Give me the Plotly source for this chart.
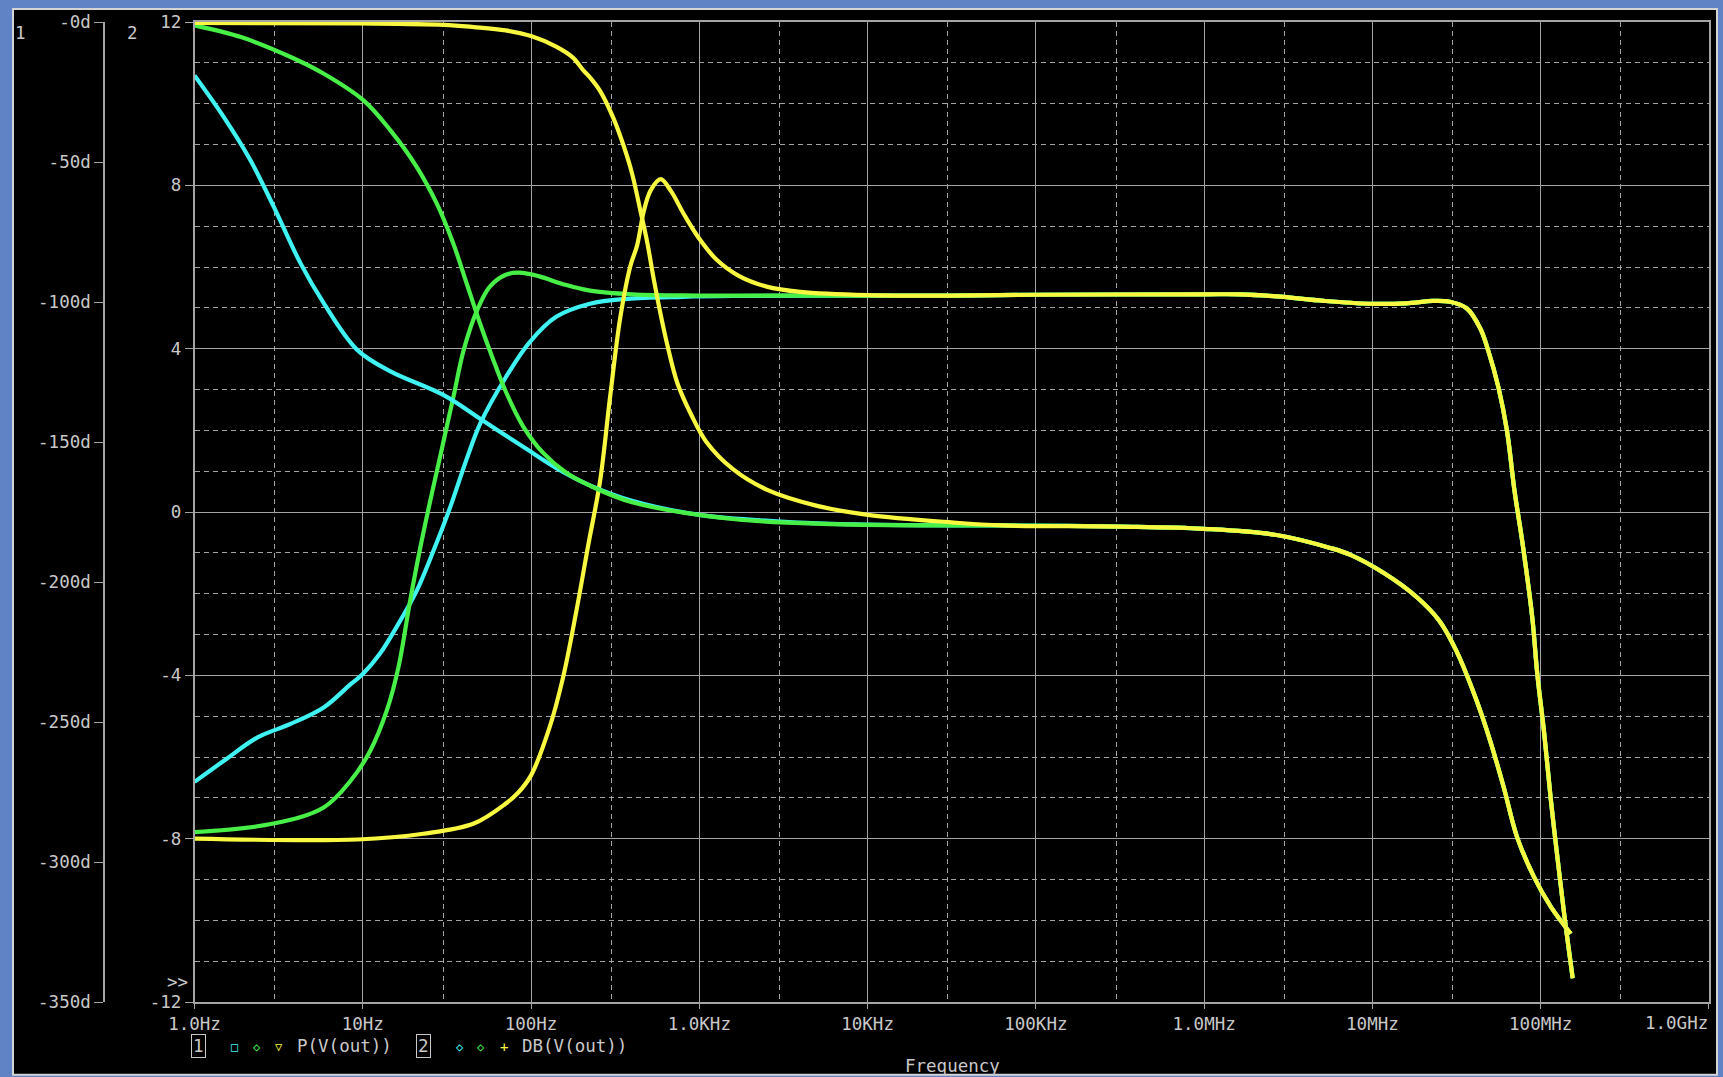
import plotly.graph_objects as go

# ---------------- data ----------------
X_TICK_VALS = [1, 10, 100, 1e3, 1e4, 1e5, 1e6, 1e7, 1e8, 1e9]
X_TICK_TEXT = ["1.0Hz", "10Hz", "100Hz", "1.0KHz", "10KHz", "100KHz",
               "1.0MHz", "10MHz", "100MHz", "1.0GHz"]
X_MINOR_VALS = [3, 30, 300, 3e3, 3e4, 3e5, 3e6, 3e7, 3e8]

DB_TICK_VALS = [12, 8, 4, 0, -4, -8, -12]
DB_TICK_TEXT = ["12", "8", "4", "0", "-4", "-8", "-12"]
PH_TICK_VALS = [0, -50, -100, -150, -200, -250, -300, -350]
PH_TICK_TEXT = ["-0d", "-50d", "-100d", "-150d", "-200d", "-250d", "-300d", "-350d"]

# shared high-frequency part (the three traces coincide there)
HF_PH_FREQ = [6.31e4, 3.16e5, 1.0e6, 2.69e6, 5.75e6, 7.41e6, 1.17e7, 1.86e7,
              2.51e7, 3.16e7, 4.17e7, 5.01e7, 6.03e7, 7.24e7, 9.12e7, 1.15e8, 1.51e8]
HF_PH = [-179.8, -180.2, -181.0, -183.2, -188.0, -190.3, -196.8, -205.7,
         -214.0, -224.7, -242.5, -256.7, -273.3, -291.1, -305.3, -316.0, -325.6]
HF_DB_FREQ = [3.16e4, 1.0e5, 1.0e6, 1.62e6, 2.69e6, 5.13e6, 9.55e6, 1.58e7,
              2.29e7, 2.88e7, 3.63e7, 4.37e7, 4.90e7, 5.62e7, 6.31e7, 7.0e7,
              7.76e7, 8.91e7, 9.55e7, 1.05e8, 1.15e8, 1.29e8, 1.41e8, 1.55e8]
HF_DB = [5.30, 5.32, 5.33, 5.33, 5.28, 5.17, 5.10, 5.11,
         5.17, 5.15, 4.99, 4.50, 3.93, 3.04, 1.98, 0.5,
         -0.7, -2.58, -3.97, -5.43, -7.06, -8.85, -10.16, -11.42]

# cyan
CYAN_PH_FREQ = [1, 1.49, 2.15, 2.96, 4.27, 5.86, 9.27, 14.6, 29.9, 52.5,
                91.2, 143, 224, 398, 1000, 3981, 1e4, 3.16e4]
CYAN_PH = [-19.1, -33.9, -49.4, -66.0, -86.2, -100.4, -117.1, -124.8, -133.1, -142.6,
           -152.0, -159.5, -165.5, -171.0, -176.0, -178.8, -179.5, -179.8]
CYAN_DB_FREQ = [1, 1.51, 2.37, 3.72, 5.89, 8.51, 10.0, 12.6, 15.8, 20.9, 26.3,
                33.1, 41.7, 50.1, 70.8, 97.7, 141, 224, 372, 794, 1585, 1e4]
CYAN_DB = [-6.61, -6.08, -5.52, -5.19, -4.78, -4.21, -3.97, -3.48, -2.83, -1.93, -0.95,
           0.12, 1.33, 2.18, 3.3, 4.15, 4.78, 5.1, 5.22, 5.27, 5.29, 5.30]

# green
GREEN_PH_FREQ = [1, 1.89, 3.73, 5.87, 10.1, 14.6, 20.9, 27.5, 34.5, 41.4, 49.7,
                 59.6, 71.4, 89.7, 118, 162, 222, 398, 1585, 6310, 3.16e4]
GREEN_PH = [-1.2, -5.4, -12.5, -18.5, -28.0, -38.7, -51.7, -64.8, -79.1, -93.3, -107.6,
            -120.6, -132.5, -144.4, -153.9, -161.0, -165.5, -171.5, -177.5, -179.3, -179.8]
GREEN_DB_FREQ = [1, 2.95, 5.89, 8.51, 11.1, 13.9, 16.3, 19.1, 21.9, 25.1, 28.8,
                 31.6, 34.7, 39.8, 47.9, 56.9, 70.8, 85.1, 112, 155, 224, 398, 1000, 1e4]
GREEN_DB = [-7.84, -7.63, -7.23, -6.57, -5.84, -4.86, -3.80, -2.18, -0.9, 0.25, 1.35,
            2.1, 2.85, 3.97, 4.95, 5.52, 5.81, 5.86, 5.77, 5.58, 5.42, 5.33, 5.30, 5.30]

# yellow
YEL_PH_FREQ = [1, 9.33, 30.2, 45.7, 70.8, 100, 141, 178, 204, 224, 257, 309, 355,
               398, 447, 490, 537, 589, 646, 741, 891, 1096, 1585, 2512, 5012, 1e4, 3.16e4]
YEL_PH = [-0.3, -0.5, -1.0, -1.8, -3.0, -5.0, -8.8, -12.8, -17.2, -19.8, -24.6, -34.4, -44.2,
          -54.0, -67.5, -78.6, -92.1, -104.4, -115.4, -129.0, -140.0, -149.8, -159.7, -167.0,
          -172.8, -176.0, -178.7]
YEL_DB_FREQ = [1, 9.33, 22.9, 45.7, 70.8, 84.0, 100, 129, 155, 186, 219, 257, 295, 339,
               389, 427, 468, 513, 589, 676, 813, 1000, 1259, 1738, 2512, 3981, 1e4]
YEL_DB = [-8.0, -8.02, -7.88, -7.63, -7.14, -6.87, -6.45, -5.27, -4.05, -2.42, -0.8, 0.75, 2.82,
          4.76, 6.02, 6.53, 7.37, 7.87, 8.15, 7.87, 7.28, 6.69, 6.19, 5.77, 5.52, 5.39, 5.31]

CYAN = "#3ff3f3"
GREEN = "#47ef47"
YELLOW = "#f8f840"
GRID = "#a4a4a4"
TXT = "#c8c8c8"
FONT = "DejaVu Sans Mono"

# ---------------- geometry ----------------
W, H = 1723, 1077
ML, MR, MT, MB = 60, 14, 20, 75
PW = W - ML - MR
PH_ = H - MT - MB
PLOT_LEFT = 194.5


def px(xp):
    return (xp - ML) / PW


def py(yp):
    return (H - MB - yp) / PH_


fig = go.Figure()

series = [
    (CYAN_PH_FREQ, CYAN_PH, CYAN_DB_FREQ, CYAN_DB, CYAN),
    (GREEN_PH_FREQ, GREEN_PH, GREEN_DB_FREQ, GREEN_DB, GREEN),
    (YEL_PH_FREQ, YEL_PH, YEL_DB_FREQ, YEL_DB, YELLOW),
]
LINE_W = 4.2
for fph, ph, fdb, db, col in series:
    fig.add_trace(go.Scatter(x=fdb + HF_DB_FREQ, y=db + HF_DB, mode="lines",
                             line=dict(color=col, width=LINE_W, shape="spline", smoothing=1.0),
                             yaxis="y", showlegend=False, hoverinfo="skip"))
for fph, ph, fdb, db, col in series:
    fig.add_trace(go.Scatter(x=fph + HF_PH_FREQ, y=ph + HF_PH, mode="lines",
                             line=dict(color=col, width=LINE_W, shape="spline", smoothing=1.0),
                             yaxis="y2", showlegend=False, hoverinfo="skip"))

tickfont = dict(family=FONT, size=17.5, color=TXT)

# the last x label is drawn right-aligned to the plot edge, as in the reference
x_text_shown = X_TICK_TEXT[:-1] + [""]

fig.update_layout(
    width=W, height=H,
    margin=dict(l=ML, r=MR, t=MT, b=MB, pad=0),
    paper_bgcolor="#5f83c4",
    plot_bgcolor="#000000",
    showlegend=False,
    xaxis=dict(
        type="log", range=[0, 9.0003], domain=[px(PLOT_LEFT), 1.0],
        tickmode="array", tickvals=X_TICK_VALS, ticktext=x_text_shown,
        tickfont=tickfont, ticks="outside", ticklen=5, tickcolor=GRID,
        showline=True, linecolor=GRID, linewidth=1.5, mirror=True,
        showgrid=True, gridcolor=GRID, gridwidth=1, zeroline=False,
        minor=dict(tickvals=X_MINOR_VALS, showgrid=True, gridcolor=GRID,
                   griddash="5px,4px", gridwidth=1, ticks=""),
    ),
    yaxis=dict(
        range=[-12, 12], tickmode="array", tickvals=DB_TICK_VALS, ticktext=DB_TICK_TEXT,
        tickfont=tickfont, ticks="outside", ticklen=8, tickcolor=GRID,
        showline=True, linecolor=GRID, linewidth=1.5, mirror=True,
        showgrid=True, gridcolor=GRID, gridwidth=1, zeroline=False,
        minor=dict(dtick=1, tick0=0, showgrid=True, gridcolor=GRID,
                   griddash="5px,4px", gridwidth=1, ticks=""),
    ),
    yaxis2=dict(
        range=[-350, 0], overlaying="y", anchor="free", position=px(104), side="left",
        tickmode="array", tickvals=PH_TICK_VALS, ticktext=PH_TICK_TEXT,
        tickfont=tickfont, ticks="outside", ticklen=9, tickcolor=GRID,
        showline=True, linecolor=GRID, linewidth=1.5,
        showgrid=False, zeroline=False,
    ),
)

# window frame: black client area with a light border over the blue background
fig.add_shape(type="rect", xref="paper", yref="paper",
              x0=px(13), x1=px(1717), y0=py(1075), y1=py(7),
              fillcolor="#000000", line=dict(color="#d4d4d4", width=2), layer="below")


def ann(text, xp, yp, size=17.5, color=TXT, xanchor="center", **kw):
    fig.add_annotation(text=text, x=px(xp), y=py(yp), xref="paper", yref="paper",
                       showarrow=False, xanchor=xanchor, yanchor="middle",
                       font=dict(family=FONT, size=size, color=color), **kw)


ann("1", 20, 31)
ann("2", 132, 31)
ann("&gt;&gt;", 177, 982)
ann("Frequency", 952, 1066)
ann(X_TICK_TEXT[-1], 1710, 1023, xanchor="right")

# legend row
ann("1", 198, 1046, bordercolor=TXT, borderwidth=1, borderpad=1)
ann("□", 234, 1047, size=12, color=CYAN)
ann("◇", 257, 1047, size=12, color=GREEN)
ann("▽", 279, 1047, size=12, color=YELLOW)
ann("P(V(out))", 295, 1046, xanchor="left")
ann("2", 423, 1046, bordercolor=TXT, borderwidth=1, borderpad=1)
ann("◇", 460, 1047, size=12, color=CYAN)
ann("◇", 481, 1047, size=12, color=GREEN)
ann("+", 504, 1047, size=14, color=YELLOW)
ann("DB(V(out))", 520, 1046, xanchor="left")

fig.write_html("out.html", config={"displayModeBar": False},
               post_script="document.body.style.margin='0';document.body.style.overflow='hidden';")
